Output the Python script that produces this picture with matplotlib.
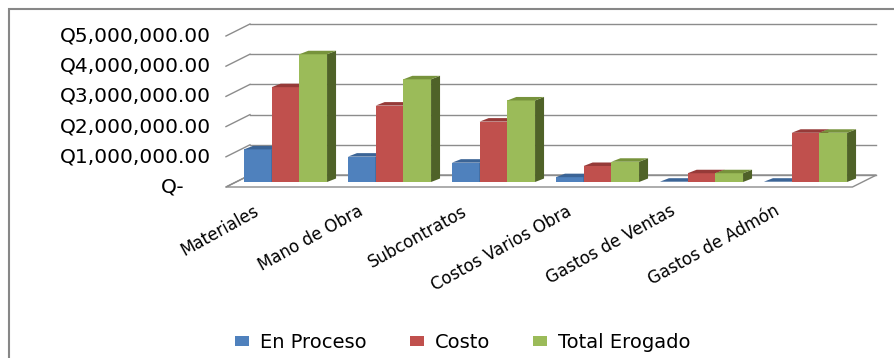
import matplotlib.pyplot as plt
from matplotlib.patches import Polygon, Rectangle

categorias = ["Materiales", "Mano de Obra", "Subcontratos", "Costos Varios Obra",
              "Gastos de Ventas", "Gastos de Admón"]
en_proceso = [1080000, 840000, 640000, 160000, 10000, 10000]
costo = [3140000, 2530000, 2000000, 530000, 290000, 1630000]
total_erogado = [4230000, 3400000, 2700000, 670000, 290000, 1630000]
series = ["En Proceso", "Costo", "Total Erogado"]
ticks = [0, 1000000, 2000000, 3000000, 4000000, 5000000]
tick_labels = ["Q-", "Q1,000,000.00", "Q2,000,000.00", "Q3,000,000.00",
               "Q4,000,000.00", "Q5,000,000.00"]

front = ["#4F81BD", "#C0504D", "#9BBB59"]
top = ["#3B6496", "#963A38", "#77933C"]
side = ["#2F4F7A", "#772C2A", "#4F6228"]
grid_c = "#8C8C8C"

W, H = 895, 358
fig = plt.figure(figsize=(W / 100, H / 100), dpi=100)
fig.patch.set_facecolor("white")

# axes placed in pixel terms (bar plane)
x0_px, x1_px = 233.5, 857.5
y0_px, y1_px = 182.0, 182.0 - 5 * 30.2
ax = fig.add_axes([x0_px / W, 1 - y0_px / H, (x1_px - x0_px) / W, (y0_px - y1_px) / H])
ax.set_xlim(-0.5, 5.5)
ax.set_ylim(0, 5000000)
ax.axis("off")

px_x = (x1_px - x0_px) / 6.0
px_y = (y0_px - y1_px) / 5000000.0


def off(dx, dy):
    # pixel offset (dy down positive) -> data units
    return dx / px_x, -dy / px_y


xl, xr = -0.457, 5.567
bx, by = off(12, -7)    # back wall
fx, fy = off(-12, 5)    # front edge

# floor
ax.add_patch(Polygon([(xl + fx, fy), (xr + fx, fy), (xr + bx, by), (xl + bx, by)],
                     closed=True, facecolor="white", edgecolor=grid_c, lw=1.0,
                     zorder=1, clip_on=False))
# gridlines on back wall and slanted side lines
for t, lab in zip(ticks, tick_labels):
    ax.plot([xl + bx, xr + bx], [t + by, t + by], color=grid_c, lw=1.0, zorder=1,
            clip_on=False)
    ax.plot([xl + fx, xl + bx], [t + fy, t + by], color=grid_c, lw=1.0, zorder=1,
            clip_on=False)
    shift = -41 if t == 0 else -15
    ax.annotate(lab, (xl + fx, t + fy), xytext=(shift, 0), textcoords="offset pixels",
                ha="right", va="center", fontsize=14.5, color="black",
                family="DejaVu Sans", annotation_clip=False)

# 3D-looking bars
w = 27.7 / px_x
ddx, ddy = off(9, -3.5)
valores = [en_proceso, costo, total_erogado]
for i in range(len(categorias)):
    for j, vals in enumerate(valores):
        v = vals[i]
        xc = i + (j - 1) * w
        z = 3 + i * 3 + j
        ax.bar(xc, v, width=w, color=front[j], zorder=z, clip_on=False)
        a, b = xc - w / 2, xc + w / 2
        ax.add_patch(Polygon([(b, 0), (b, v), (b + ddx, v + ddy), (b + ddx, ddy)],
                             closed=True, facecolor=side[j], edgecolor="none",
                             zorder=z, clip_on=False))
        ax.add_patch(Polygon([(a, v), (b, v), (b + ddx, v + ddy), (a + ddx, v + ddy)],
                             closed=True, facecolor=top[j], edgecolor="none",
                             zorder=z, clip_on=False))

# category labels
for i, cat in enumerate(categorias):
    ax.annotate(cat, (i, 0), xytext=(-32, -20), textcoords="offset pixels",
                ha="right", va="top", rotation=29, rotation_mode="anchor",
                fontsize=12, family="DejaVu Sans", color="black",
                annotation_clip=False)

# legend
handles = [Rectangle((0, 0), 1, 1, facecolor=c, edgecolor="none") for c in front]
fig.legend(handles, series, loc="center", bbox_to_anchor=(463 / W, 1 - 342 / H),
           ncol=3, frameon=False, fontsize=14, handlelength=0.72, handleheight=0.41,
           handletextpad=0.57, columnspacing=2.2, borderpad=0)

# outer chart border
fig.patches.append(Rectangle((9 / W, -0.5), 1.5, 1.5 - 9 / H, transform=fig.transFigure,
                             fill=False, edgecolor="#878787", lw=1.5))

fig.savefig("out.png", dpi=100)
